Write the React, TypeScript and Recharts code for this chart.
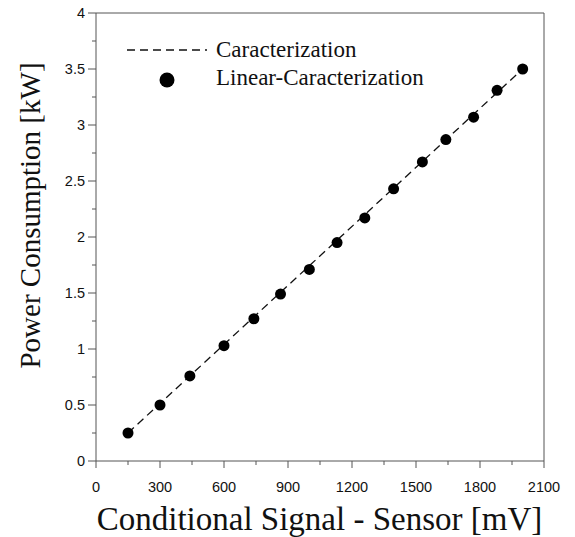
import React from "react";
import {
  ComposedChart,
  Line,
  Scatter,
  XAxis,
  YAxis,
  ReferenceLine,
  Customized,
} from "recharts";

// measured points (mV -> kW)
const signalMv = [150, 300, 440, 600, 740, 865, 1000, 1130, 1260, 1395, 1530, 1640, 1770, 1880, 2000];
const powerKw = [0.25, 0.5, 0.76, 1.03, 1.27, 1.49, 1.71, 1.95, 2.17, 2.43, 2.67, 2.87, 3.07, 3.31, 3.5];

// fitted characterization line end points
const fitMv = [150, 2000];
const fitKw = [0.25, 3.5];

const xTicks = [0, 150, 300, 450, 600, 750, 900, 1050, 1200, 1350, 1500, 1650, 1800, 1950, 2100];
const xLabels = [0, 300, 600, 900, 1200, 1500, 1800, 2100];
const yTicks = [0, 0.25, 0.5, 0.75, 1, 1.25, 1.5, 1.75, 2, 2.25, 2.5, 2.75, 3, 3.25, 3.5, 3.75, 4];
const yLabels = [0, 0.5, 1, 1.5, 2, 2.5, 3, 3.5, 4];

const points = signalMv.map((x, i) => ({ x, y: powerKw[i] }));
const fitLine = fitMv.map((x, i) => ({ x, y: fitKw[i] }));

const AXIS = "#555";
const SERIF = "Liberation Serif";
const SANS = "Liberation Sans";

const XTick = (props: any) => {
  const { x, y, payload } = props;
  const major = xLabels.includes(payload.value);
  return (
    <g>
      <line x1={x} x2={x} y1={y} y2={y + (major ? 7 : 4)} stroke={AXIS} />
      {major && (
        <text x={x} y={y + 31} textAnchor="middle" style={{ fontFamily: SANS, fontSize: 14.5 }} fill="#111">
          {payload.value}
        </text>
      )}
    </g>
  );
};

const YTick = (props: any) => {
  const { x, y, payload } = props;
  const major = yLabels.includes(payload.value);
  return (
    <g>
      <line x1={x} x2={x - (major ? 8 : 4)} y1={y} y2={y} stroke={AXIS} />
      {major && (
        <text
          x={x - 11}
          y={y}
          textAnchor="end"
          dominantBaseline="central"
          style={{ fontFamily: SANS, fontSize: 14.5 }}
          fill="#111"
        >
          {payload.value}
        </text>
      )}
    </g>
  );
};

const Dot = (props: any) => {
  const { cx, cy } = props;
  return <circle cx={cx} cy={cy} r={5.5} fill="#000" />;
};

const legendText = { fontFamily: SERIF, fontSize: 23 };

const LegendBox = () => (
  <g fill="#111">
    <line x1={127} x2={207} y1={50} y2={50} stroke="#111" strokeWidth={1.3} strokeDasharray="8 5" />
    <text x={216} y={57} style={legendText}>Caracterization</text>
    <circle cx={167} cy={80} r={7.5} fill="#000" />
    <text x={216} y={85} style={legendText}>Linear-Caracterization</text>
  </g>
);

export default function App() {
  return (
    <div style={{ position: "absolute", left: 0, top: 0, background: "#fff" }}>
      <ComposedChart
        width={575}
        height={537}
        margin={{ top: 13, right: 31, bottom: 0, left: 0 }}
      >
        <XAxis
          dataKey="x"
          type="number"
          domain={[0, 2100]}
          ticks={xTicks}
          interval={0}
          allowDataOverflow
          height={76}
          tickSize={0}
          tickMargin={0}
          tickLine={false}
          stroke={AXIS}
          tick={<XTick />}
          label={{
            content: () => (
              <text x={319.5} y={530} textAnchor="middle" style={{ fontFamily: SERIF, fontSize: 33 }} fill="#111">
                Conditional Signal - Sensor [mV]
              </text>
            ),
          }}
        />
        <YAxis
          dataKey="y"
          type="number"
          domain={[0, 4]}
          ticks={yTicks}
          interval={0}
          allowDataOverflow
          width={96}
          tickSize={0}
          tickMargin={0}
          tickLine={false}
          stroke={AXIS}
          tick={<YTick />}
          label={{
            content: () => (
              <text
                x={40}
                y={215.5}
                transform="rotate(-90 40 215.5)"
                textAnchor="middle"
                style={{ fontFamily: SERIF, fontSize: 29 }}
                fill="#111"
              >
                Power Consumption [kW]
              </text>
            ),
          }}
        />
        <ReferenceLine x={2100} stroke={AXIS} />
        <ReferenceLine y={4} stroke={AXIS} />
        <Line
          data={fitLine}
          dataKey="y"
          type="linear"
          stroke="#111"
          strokeWidth={1.3}
          strokeDasharray="8 5"
          dot={false}
          activeDot={false}
          isAnimationActive={false}
        />
        <Scatter data={points} dataKey="y" fill="#000" shape={<Dot />} isAnimationActive={false} />
        <Customized component={LegendBox} />
      </ComposedChart>
    </div>
  );
}
